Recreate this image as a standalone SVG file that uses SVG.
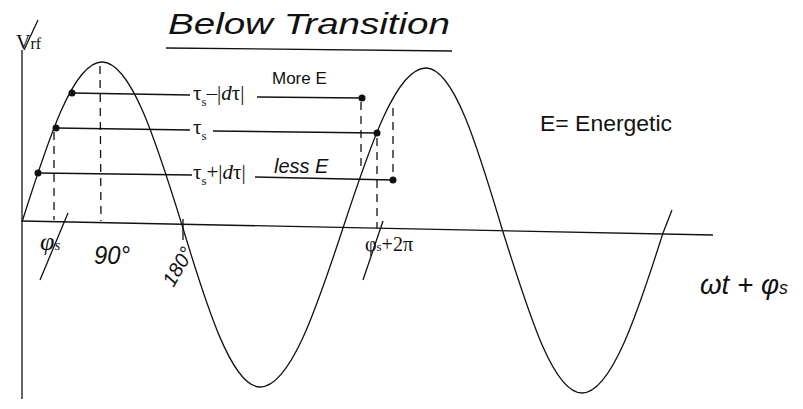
<svg xmlns="http://www.w3.org/2000/svg" width="803" height="409" viewBox="0 0 803 409">
<style>
.ln{stroke:#111;stroke-width:1.3;fill:none}
.ds{stroke:#111;stroke-width:1.3;fill:none;stroke-dasharray:8 6}
.hw{font-family:"Liberation Sans",sans-serif;fill:#111}
.tm{font-family:"Liberation Serif",serif;fill:#111}
.dot{fill:#111}
</style>
<rect width="803" height="409" fill="#fff"/>
<g id="axes">
<path class="ln" d="M22 50 L22 399"/>
<path class="ln" d="M22 221 L713 235"/>
<text class="tm" x="16" y="49" font-size="20">V<tspan font-size="16">rf</tspan></text>
<path class="ln" stroke-width="2" d="M24 50 L38 20"/>
</g>
<g id="title">
<text class="hw" x="168" y="34" font-size="30" font-style="italic" textLength="282" lengthAdjust="spacingAndGlyphs">Below Transition</text>
<path class="ln" stroke-width="2" d="M166 48 L452 51"/>
</g>
<g id="wave">
<path class="ln" d="M22 222 C48 140 73 62 102 62 C131 62 156 141 182 225 C207 308 232 387 260 387 C290 387 316 310 343 228 C370 146 396 68 426 68 C454 68 478 148 503 232 C529 314 553 393 582 393 C611 393 637 315 663 233 L672 210"/>
</g>
<g id="connectors">
<path class="ln" d="M72 93 L190 95"/>
<path class="ln" d="M257 97 L362 98"/>
<path class="ln" d="M56 128 L190 130"/>
<path class="ln" d="M213 131 L377 133"/>
<path class="ln" d="M38 173 L192 175"/>
<path class="ln" d="M255 177 L393 180"/>
<path class="ds" d="M54 132 L54 220"/>
<path class="ds" d="M100 66 L101 221"/>
<path class="ds" d="M361 102 L361 172"/>
<path class="ds" d="M377 138 L377 228"/>
<path class="ds" d="M393 108 L393 180"/>
</g>
<g id="dots">
<circle class="dot" cx="72" cy="93" r="3.5"/>
<circle class="dot" cx="56" cy="128" r="3.5"/>
<circle class="dot" cx="38" cy="173" r="3.5"/>
<circle class="dot" cx="362" cy="98" r="3.5"/>
<circle class="dot" cx="377" cy="133" r="3.5"/>
<circle class="dot" cx="393" cy="180" r="3.5"/>
</g>
<g id="label-minus">
<text class="tm" x="193" y="100" font-size="21">τ<tspan font-size="13" dy="6">s</tspan><tspan dy="-6">–|<tspan font-style="italic">d</tspan>τ|</tspan></text>
</g>
<g id="label-ts">
<text class="tm" x="193" y="134" font-size="21">τ<tspan font-size="13" dy="6">s</tspan></text>
</g>
<g id="label-plus">
<text class="tm" x="193" y="179" font-size="21">τ<tspan font-size="13" dy="6">s</tspan><tspan dy="-6">+|<tspan font-style="italic">d</tspan>τ|</tspan></text>
</g>
<g id="more-e"><text class="hw" x="272" y="84" font-size="17">More E</text></g>
<g id="less-e"><text class="hw" x="274" y="173" font-size="20" font-style="italic">less E</text></g>
<g id="legend"><text class="hw" x="540" y="131" font-size="22" textLength="132" lengthAdjust="spacingAndGlyphs">E= Energetic</text></g>
<g id="xlabel"><text class="hw" x="700" y="294" font-size="28" font-style="italic" textLength="88" lengthAdjust="spacingAndGlyphs">ωt + φ<tspan font-size="18">s</tspan></text></g>
<g id="tick-phis">
<path class="ln" stroke-width="1.6" d="M68 213 L40 280"/>
<text class="tm" x="40" y="250" font-size="26" font-style="italic">φ<tspan font-size="15">s</tspan></text>
</g>
<g id="tick-90">
<text class="hw" x="94" y="264" font-size="26" font-style="italic" textLength="36" lengthAdjust="spacingAndGlyphs">90°</text>
</g>
<g id="tick-180">
<path class="ln" stroke-width="1.6" d="M183 219 L183 240"/>
<text class="hw" x="158" y="283" font-size="20" font-style="italic" transform="rotate(-60 170 272)">180°</text>
</g>
<g id="tick-phis2pi">
<path class="ln" stroke-width="1.6" d="M383 221 L363 280"/>
<text class="tm" x="365" y="251" font-size="20">φ<tspan font-size="13">s</tspan>+2π</text>
</g>
</svg>
